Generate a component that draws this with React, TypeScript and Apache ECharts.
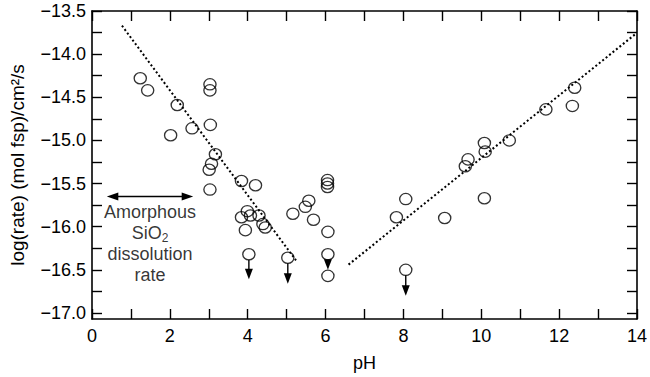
import React, { useEffect, useRef } from 'react';
import * as echarts from 'echarts';

// Measured points: pH and log(rate)
const phValues = [
  1.24, 1.43, 2.19, 2.02, 2.57, 3.03, 3.03, 3.04, 3.17, 3.07, 3.01, 3.03,
  3.84, 4.2, 6.05, 6.05, 6.05, 8.06, 5.57, 5.48, 5.16, 7.82, 3.99, 3.84,
  4.07, 4.29, 4.39, 4.45, 3.94, 5.69, 6.06, 4.03, 5.03, 6.06, 6.06, 8.06,
  9.06, 10.08, 9.59, 9.66, 10.08, 10.1, 10.72, 11.66, 12.34, 12.4,
];
const rateValues = [
  -14.28, -14.42, -14.59, -14.94, -14.86, -14.35, -14.42, -14.82, -15.16, -15.27, -15.34, -15.57,
  -15.47, -15.52, -15.46, -15.5, -15.54, -15.68, -15.7, -15.77, -15.85, -15.89, -15.82, -15.89,
  -15.87, -15.87, -15.97, -16.01, -16.04, -15.92, -16.06, -16.32, -16.36, -16.32, -16.57, -16.5,
  -15.9, -15.67, -15.3, -15.22, -15.03, -15.13, -15.0, -14.64, -14.6, -14.39,
];

// Upper-limit arrows (pH, circle value, arrow tip value)
const arrowPH = [4.03, 5.03, 6.06, 8.06];
const arrowFrom = [-16.32, -16.36, -16.32, -16.5];
const arrowTip = [-16.61, -16.66, -16.5, -16.8];

// Trend lines
const leftTrend = [[0.77, -13.67], [5.24, -16.39]];
const rightTrend = [[6.59, -16.44], [13.98, -13.76]];

// Amorphous SiO2 range arrow (pH from, pH to, value)
const silicaRange = [[0.38, 2.6, -15.65]];
const silicaLabelPos = [1.49, -16.2];

const yTickValues = [-17, -16.75, -16.5, -16.25, -16, -15.75, -15.5, -15.25, -15, -14.75, -14.5, -14.25, -14, -13.75, -13.5];
const yLabelValues = [-17, -16.5, -16, -15.5, -15, -14.5, -14, -13.5];

const FONT = '"Liberation Sans", Arial, Helvetica, sans-serif';

export default function App() {
  const ref = useRef<HTMLDivElement>(null);
  useEffect(() => {
    if (!ref.current) return;
    const chart = echarts.init(ref.current, undefined, { renderer: 'svg' });
    const points = phValues.map((p, i) => [p, rateValues[i]]);
    const arrows = arrowPH.map((p, i) => [p, arrowFrom[i], arrowTip[i]]);
    const axisLine = { show: true, onZero: false, lineStyle: { color: '#000', width: 1.6 } };
    const yMin = -17.07;
    const yMax = -13.5;
    const option: any = {
      animation: false,
      textStyle: { fontFamily: FONT },
      grid: { left: 92, right: 10.5, top: 11, bottom: 54.7 },
      xAxis: [
        {
          type: 'value', min: 0, max: 14, interval: 1,
          axisLine,
          axisTick: { inside: true, length: 10, lineStyle: { color: '#000', width: 1.4 } },
          axisLabel: {
            color: '#000', fontSize: 18, fontFamily: FONT, margin: 8,
            formatter: (v: number) => (v % 2 === 0 ? String(v) : ''),
          },
          splitLine: { show: false },
          name: 'pH', nameLocation: 'middle', nameGap: 35,
          nameTextStyle: { color: '#000', fontSize: 18, fontFamily: FONT },
        },
        {
          type: 'value', min: 0, max: 14, interval: 1, position: 'top',
          axisLine,
          axisTick: { inside: true, length: 10, lineStyle: { color: '#000', width: 1.4 } },
          axisLabel: { show: false },
          splitLine: { show: false },
        },
      ],
      yAxis: [
        {
          type: 'value', min: yMin, max: yMax,
          axisLine,
          axisTick: { inside: true, length: 10, customValues: yTickValues, lineStyle: { color: '#000', width: 1.4 } },
          axisLabel: {
            color: '#000', fontSize: 18, fontFamily: FONT, margin: 6,
            customValues: yLabelValues,
            formatter: (v: number) => v.toFixed(1).replace('-', '\u2212'),
          },
          splitLine: { show: false },
          name: 'log(rate) (mol fsp)/cm\u00B2/s', nameLocation: 'middle', nameGap: 65,
          nameTextStyle: { color: '#000', fontSize: 19, fontFamily: FONT },
        },
        {
          type: 'value', min: yMin, max: yMax, position: 'right',
          axisLine,
          axisTick: { inside: true, length: 10, customValues: yTickValues, lineStyle: { color: '#000', width: 1.4 } },
          axisLabel: { show: false },
          splitLine: { show: false },
        },
      ],
      series: [
        {
          type: 'line', data: leftTrend, symbol: 'none', silent: true,
          lineStyle: { color: '#000', width: 2, type: [2, 2.4] },
        },
        {
          type: 'line', data: rightTrend, symbol: 'none', silent: true,
          lineStyle: { color: '#000', width: 2, type: [2, 2.4] },
        },
        {
          type: 'custom', data: arrows, encode: { x: 0, y: [1, 2] }, silent: true,
          renderItem: (params: any, api: any) => {
            const x = api.value(0);
            const p0 = api.coord([x, api.value(1)]);
            const p1 = api.coord([x, api.value(2)]);
            return {
              type: 'group',
              children: [
                { type: 'line', shape: { x1: p0[0], y1: p0[1] + 5.5, x2: p1[0], y2: p1[1] - 8 }, style: { stroke: '#000', lineWidth: 1.4 } },
                { type: 'polygon', shape: { points: [[p1[0] - 4, p1[1] - 10.5], [p1[0] + 4, p1[1] - 10.5], [p1[0], p1[1]]] }, style: { fill: '#000' } },
              ],
            };
          },
        },
        {
          type: 'custom', data: silicaRange, encode: { x: [0, 1], y: 2 }, silent: true,
          renderItem: (params: any, api: any) => {
            const y = api.value(2);
            const a = api.coord([api.value(0), y]);
            const b = api.coord([api.value(1), y]);
            return {
              type: 'group',
              children: [
                { type: 'line', shape: { x1: a[0] + 8, y1: a[1], x2: b[0] - 8, y2: b[1] }, style: { stroke: '#000', lineWidth: 1.4 } },
                { type: 'polygon', shape: { points: [[a[0], a[1]], [a[0] + 11.5, a[1] - 4], [a[0] + 11.5, a[1] + 4]] }, style: { fill: '#000' } },
                { type: 'polygon', shape: { points: [[b[0], b[1]], [b[0] - 11.5, b[1] - 4], [b[0] - 11.5, b[1] + 4]] }, style: { fill: '#000' } },
              ],
            };
          },
        },
        {
          type: 'scatter', data: points, silent: true,
          symbol: 'path://M0,5A5,5,0,1,0,10,5A5,5,0,1,0,0,5Z',
          symbolSize: [12.2, 11.3],
          itemStyle: { color: 'rgba(0,0,0,0)', borderColor: '#000', borderWidth: 1.3 },
        },
        {
          type: 'scatter', data: [silicaLabelPos], symbolSize: 0, silent: true,
          label: {
            show: true, position: 'inside', color: '#000', fontSize: 18, fontFamily: FONT,
            lineHeight: 21, align: 'center', verticalAlign: 'middle',
            formatter: 'Amorphous\nSiO{sub|2}\ndissolution\nrate',
            rich: {
              sub: { fontSize: 12, lineHeight: 10, verticalAlign: 'bottom', color: '#000', fontFamily: FONT },
            },
          },
        },
      ],
    };
    chart.setOption(option);
    return () => chart.dispose();
  }, []);
  return <div ref={ref} style={{ position: 'absolute', left: 0, top: 0, width: 650, height: 377, background: '#fff' }} />;
}
